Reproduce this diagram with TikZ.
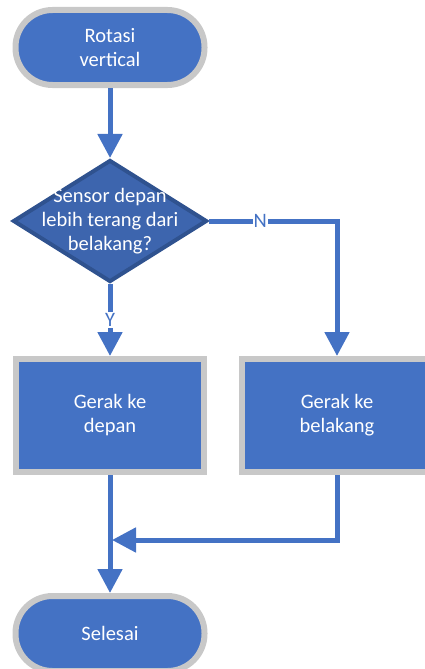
\documentclass[tikz,border=0pt]{standalone}
\usepackage{fontspec}
\setmainfont{Carlito}
\usetikzlibrary{shapes.geometric,arrows.meta}
\definecolor{ofblue}{HTML}{4472C4}
\definecolor{ofgray}{HTML}{C8C8C8}
\definecolor{decfill}{HTML}{3D65AE}
\definecolor{decline}{HTML}{2F528F}
\begin{document}
\begin{tikzpicture}[x=1pt, y=-1pt, >={Triangle[width=24pt,length=24pt]},
  line/.style={draw=ofblue, line width=5pt},
  flow font/.style={font=\fontsize{20.5}{24}\selectfont},
  term node/.style={rectangle, rounded corners=37pt, draw=ofgray, line width=6pt, fill=ofblue, minimum width=189pt, minimum height=75pt, text=white, align=center, flow font},
  box node/.style={rectangle, draw=ofgray, line width=6pt, fill=ofblue, minimum width=188pt, minimum height=113pt, text=white, align=center, flow font},
  dec node/.style={diamond, draw=decline, line width=4pt, fill=decfill, minimum width=194pt, minimum height=122pt, inner sep=0pt},
  dec text/.style={text=white, align=center, flow font},
  lbl/.style={fill=white, text=ofblue, inner sep=1pt, flow font}]
\useasboundingbox (0,0) rectangle (425,669);
%nodes
\node [term node](start) at (110,47.5) {Rotasi\\vertical};
\node [dec node, label={[dec text]center:{Sensor depan\\lebih terang dari\\belakang?}}](dec) at (110,221) {};
\node [box node](front) at (110,415.5) {Gerak ke\\depan};
\node [box node, minimum width=190pt](back) at (337,415.5) {Gerak ke\\belakang};
\node [term node](stop) at (110,633.5) {Selesai};
\coordinate (join) at (110,540);
%connectors
\path
	(start) edge [line,->] (dec)
	(dec) edge [line,->] node[lbl]{Y} (front)
	(front) edge [line,->] (stop)
	;
\draw [line,->] (dec.east) -| node[lbl, pos=0.2]{N} (back);
\draw [line,->, shorten >=2pt] (back) |- (join);
\end{tikzpicture}
\end{document}
